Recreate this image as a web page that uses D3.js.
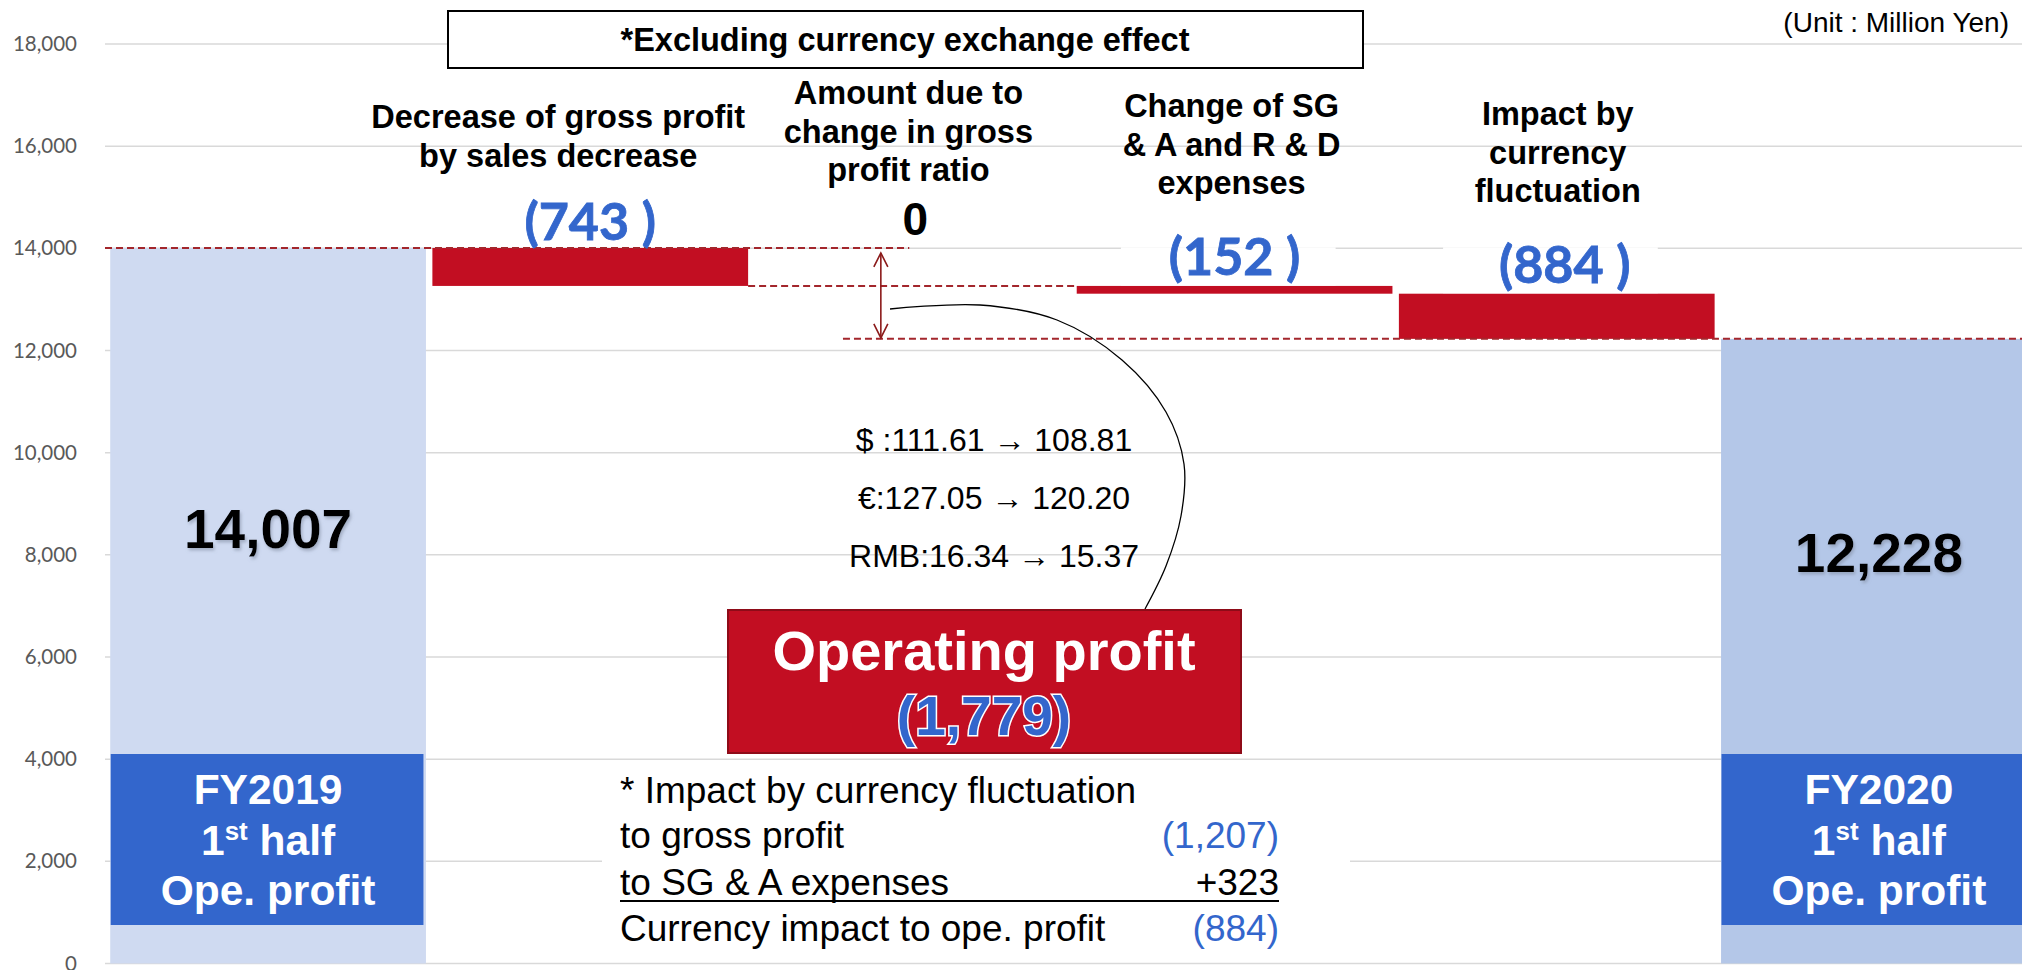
<!DOCTYPE html>
<html><head><meta charset="utf-8">
<script src="https://cdn.jsdelivr.net/npm/d3@7"></script>
<style>html,body{margin:0;padding:0;background:#fff;overflow:hidden}</style>
</head><body><svg id="chart" width="2022" height="970"></svg>
<script>
// ---------- data ----------
const categories = ["FY2019 1st half","Decrease of gross profit by sales decrease","Amount due to change in gross profit ratio","Change of SG & A and R & D expenses","Impact by currency fluctuation","FY2020 1st half"];
const values = [14007, -743, 0, -152, -884, 12228];
const kinds = ["total","delta","delta","delta","delta","total"];
const valueLabels = ["14,007","(743 )","0","(152 )","(884 )","12,228"];
const categoryLabelLines = [[], ["Decrease of gross profit","by sales decrease"], ["Amount due to","change in gross","profit ratio"], ["Change of SG","& A and R & D","expenses"], ["Impact by","currency","fluctuation"], []];
const totalBoxLines = [["FY2019","1st half","Ope. profit"], [], [], [], [], ["FY2020","1st half","Ope. profit"]];
const yTicks = [0,2000,4000,6000,8000,10000,12000,14000,16000,18000];
const titleText = "*Excluding currency exchange effect";
const unitText = "(Unit : Million Yen)";
const rates = ["$ :111.61 \u2192 108.81","\u20ac:127.05 \u2192 120.20","RMB:16.34 \u2192 15.37"];
const opProfitTitle = "Operating profit";
const opProfitDelta = "(1,779)";
const noteLabels = ["* Impact by currency fluctuation","to gross profit","to SG & A expenses","Currency impact to ope. profit"];
const noteValues = ["","(1,207)","+323","(884)"];
const noteValueBlue = [false,true,false,true];

// ---------- layout ----------
const W = 2022, H = 970;
const svg = d3.select("#chart");
const FONT = "'Liberation Sans', Arial, sans-serif";
const CAL = "Lato, 'Liberation Sans', sans-serif";
const RED = "#c20e22", BLUE = "#3366cc", DASH = "#a3262c";

const x = d3.scaleBand().domain(categories).range([107, 2040]).paddingInner(0.02).paddingOuter(0.01);
const y = d3.scaleLinear().domain([0, 18000]).range([963.5, 44]);
const bw = x.bandwidth();

// waterfall computation
let cum = 0;
const bars = categories.map((c, i) => {
  let lo, hi, start;
  if (kinds[i] === "total") { lo = 0; hi = values[i]; start = values[i]; cum = values[i]; }
  else { start = cum; const end = cum + values[i]; lo = Math.min(cum, end); hi = Math.max(cum, end); cum = end; }
  return {c, i, lo, hi, start, v: values[i], kind: kinds[i]};
});

const defs = svg.append("defs");
const f = defs.append("filter").attr("id","shadow").attr("x","-20%").attr("y","-20%").attr("width","140%").attr("height","160%");
f.append("feDropShadow").attr("dx",1.5).attr("dy",2.5).attr("stdDeviation",1.8).attr("flood-color","#7f8aa0").attr("flood-opacity",0.55);

// gridlines
svg.append("g").selectAll("line").data(yTicks).join("line")
  .attr("x1", 105).attr("x2", W)
  .attr("y1", d => y(d)).attr("y2", d => y(d))
  .attr("stroke", "#d9d9d9").attr("stroke-width", 1.5);

// y tick labels
svg.append("g").selectAll("text").data(yTicks).join("text")
  .attr("x", 77).attr("y", d => y(d) + 7)
  .attr("text-anchor", "end").attr("font-family", CAL).attr("font-size", 20.5).attr("fill", "#595959")
  .text(d => d3.format(",")(d));

// bars
svg.append("g").selectAll("rect").data(bars.filter(b => b.hi > b.lo)).join("rect")
  .attr("x", d => x(d.c)).attr("width", bw)
  .attr("y", d => y(d.hi)).attr("height", d => y(d.lo) - y(d.hi))
  .attr("fill", d => d.kind === "total" ? (d.i === 0 ? "#cfdaf1" : "#b4c7e8") : RED);

// white label backgrounds for deltas (interrupt gridlines)
bars.filter(b => b.kind === "delta" && b.v !== 0 && b.i > 1).forEach(b => {
  svg.append("rect").attr("x", x(b.c) + bw*0.14).attr("width", bw*0.68)
    .attr("y", y(14000) - 1).attr("height", y(b.hi) - y(14000) + 0.5).attr("fill", "#fff");
});

// dashed level lines
const dl = svg.append("g").attr("stroke", DASH).attr("stroke-width", 2).attr("stroke-dasharray", "7 4").attr("fill","none");
const x2s = x(categories[2]), x3s = x(categories[3]);
dl.append("line").attr("x1", 105).attr("x2", x2s + bw*0.49).attr("y1", y(bars[0].hi)).attr("y2", y(bars[0].hi));
dl.append("line").attr("x1", x(categories[1]) + bw).attr("x2", x3s).attr("y1", y(bars[1].lo)).attr("y2", y(bars[1].lo));
dl.append("line").attr("x1", x2s + bw*0.28).attr("x2", W).attr("y1", y(bars[5].hi)).attr("y2", y(bars[5].hi));

// double arrow
const ax = x2s + bw*0.4, aTop = y(bars[0].hi) + 5, aBot = y(bars[5].hi) - 1;
const ag = svg.append("g").attr("stroke", "#8b1a1a").attr("stroke-width", 1.6).attr("fill", "none");
ag.append("line").attr("x1", ax).attr("x2", ax).attr("y1", aTop).attr("y2", aBot);
ag.append("polyline").attr("points", `${ax-7},${aTop+14} ${ax},${aTop} ${ax+7},${aTop+14}`);
ag.append("polyline").attr("points", `${ax-7},${aBot-14} ${ax},${aBot} ${ax+7},${aBot-14}`);

// title box
svg.append("rect").attr("x", 448).attr("y", 11).attr("width", 915).attr("height", 57)
  .attr("fill", "#fff").attr("stroke", "#000").attr("stroke-width", 2);
svg.append("text").attr("x", 905).attr("y", 51).attr("text-anchor","middle")
  .attr("font-family", FONT).attr("font-weight", "bold").attr("font-size", 32.5).text(titleText);

// unit
svg.append("text").attr("x", 2009).attr("y", 32).attr("text-anchor","end")
  .attr("font-family", FONT).attr("font-size", 28).attr("fill","#000").text(unitText);

// category labels
const labelDx = [0, -32, -4, -3, 1, 0];
const labelBase = [0, 128, 104, 117, 125, 0];
categoryLabelLines.forEach((lines, i) => {
  if (!lines.length) return;
  const t = svg.append("text").attr("text-anchor","middle").attr("font-family", FONT)
    .attr("font-weight","bold").attr("font-size", 32.5).attr("fill","#000");
  lines.forEach((ln, k) => t.append("tspan").attr("x", x(categories[i]) + bw/2 + labelDx[i])
    .attr("y", labelBase[i] + k*38.5).text(ln));
});

// delta value labels
const valueDx = [0, 0, 3, 0, 8, 0];
const valueDy = [0, -8, -13, -11, -11, 0];
bars.forEach(b => {
  if (b.kind !== "delta") return;
  const cx = x(b.c) + bw/2 + valueDx[b.i];
  if (b.v === 0) {
    svg.append("text").attr("x", cx).attr("y", y(bars[0].hi) + valueDy[b.i]).attr("text-anchor","middle")
      .attr("font-family", FONT).attr("font-weight","bold").attr("font-size", 46).attr("fill","#000")
      .text(valueLabels[b.i]);
  } else {
    svg.append("text").attr("x", cx).attr("y", y(b.hi) + valueDy[b.i]).attr("text-anchor","middle")
      .attr("font-family", CAL).attr("font-weight","bold").attr("font-size", 52).attr("fill", BLUE)
      .attr("stroke", BLUE).attr("stroke-width", 0.8)
      .text(valueLabels[b.i]);
  }
});

// totals: value + box
bars.forEach(b => {
  if (b.kind !== "total") return;
  const cx = x(b.c) + bw/2;
  svg.append("text").attr("x", cx).attr("y", b.i === 0 ? 548 : 572).attr("text-anchor","middle")
    .attr("font-family", FONT).attr("font-weight","bold").attr("font-size", 55).attr("fill","#000")
    .attr("filter","url(#shadow)").text(valueLabels[b.i]);
  svg.append("rect").attr("x", x(b.c) + 0.5).attr("width", bw - 3).attr("y", 754).attr("height", 171).attr("fill", BLUE);
  const lines = totalBoxLines[b.i];
  const g = svg.append("g").attr("font-family", FONT).attr("font-weight","bold").attr("fill","#fff").attr("text-anchor","middle");
  g.append("text").attr("x", cx).attr("y", 804).attr("font-size", 42.5).text(lines[0]);
  const t2 = g.append("text").attr("x", cx).attr("y", 855).attr("font-size", 42.5);
  t2.append("tspan").text("1");
  t2.append("tspan").attr("font-size", 26).attr("dy", -15).text("st");
  t2.append("tspan").attr("dy", 15).text(" half");
  g.append("text").attr("x", cx).attr("y", 905).attr("font-size", 42.5).text(lines[2]);
});

// curve from arrow to operating profit box
const curvePts = [[890,309],[980,305],[1057,320],[1122,360],[1166,412],[1184,464],[1181,516],[1166,566],[1145,609]];
svg.append("path").attr("d", d3.line().curve(d3.curveCatmullRom)(curvePts))
  .attr("fill","none").attr("stroke","#000").attr("stroke-width",1.3);

// exchange rates
rates.forEach((r, k) => {
  svg.append("text").attr("x", 994).attr("y", 451 + k*58).attr("text-anchor","middle")
    .attr("font-family", FONT).attr("font-size", 32).attr("fill","#000").text(r);
});

// operating profit box
svg.append("rect").attr("x", 728).attr("y", 610).attr("width", 513).attr("height", 143)
  .attr("fill", RED).attr("stroke", "#8e0b18").attr("stroke-width", 2);
svg.append("text").attr("x", 984).attr("y", 670).attr("text-anchor","middle")
  .attr("font-family", FONT).attr("font-weight","bold").attr("font-size", 56).attr("fill","#fff").text(opProfitTitle);
svg.append("text").attr("x", 984).attr("y", 735).attr("text-anchor","middle")
  .attr("font-family", FONT).attr("font-weight","bold").attr("font-size", 55).attr("fill", BLUE)
  .attr("stroke","#fff").attr("stroke-width",3).attr("paint-order","stroke").text(opProfitDelta);

// note box
svg.append("rect").attr("x", 602).attr("y", 768).attr("width", 748).attr("height", 190).attr("fill","#fff");
const noteBase = [803, 848, 895, 941];
noteLabels.forEach((t, k) => {
  svg.append("text").attr("x", 620).attr("y", noteBase[k]).attr("font-family", FONT).attr("font-size", 37)
    .attr("fill","#000").text(t);
  if (noteValues[k]) svg.append("text").attr("x", 1279).attr("y", noteBase[k]).attr("text-anchor","end")
    .attr("font-family", FONT).attr("font-size", 37).attr("fill", noteValueBlue[k] ? BLUE : "#000").text(noteValues[k]);
});
svg.append("line").attr("x1", 620).attr("x2", 1279).attr("y1", 901).attr("y2", 901).attr("stroke","#000").attr("stroke-width",2);
</script></body></html>
